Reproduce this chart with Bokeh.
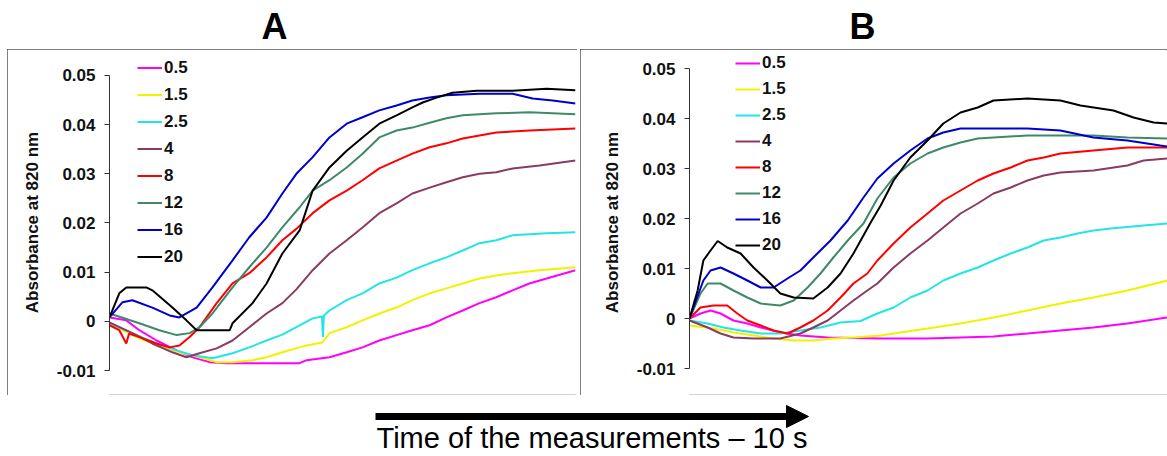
from bokeh.plotting import figure
from bokeh.models import (Range1d, FixedTicker, CustomJSTickFormatter, Legend, LegendItem,
                          Label, Arrow, NormalHead)
from bokeh.layouts import column, row
from bokeh.embed import file_html
from bokeh.resources import INLINE

# ---------------- data ----------------
labels = ["0.5", "1.5", "2.5", "4", "8", "12", "16", "20"]
colors = ["#FF00FF", "#F2F200", "#22E5E5", "#8B3A62", "#FF0000", "#3E8A68", "#0000CC", "#000000"]
yticks = [-0.01, 0.0, 0.01, 0.02, 0.03, 0.04, 0.05]

# Panel A (time in % of the record)
A_t_05 = [0, 3.6, 6.4, 10.1, 14.4, 17.8, 21.5, 25.1, 30.0, 40.8, 42.3, 47.2, 50.9, 54.3, 57.9, 61.6, 65.0, 68.7, 72.3, 75.8, 79.4, 83.0, 86.5, 90.1, 93.8, 100]
A_v_05 = [0.0008, 0.0002, -0.0018, -0.0039, -0.0059, -0.0073, -0.0083, -0.0085, -0.0085, -0.0085, -0.0079, -0.0073, -0.0063, -0.0053, -0.0039, -0.0028, -0.0018, -0.0008, 0.0008, 0.0022, 0.0037, 0.0049, 0.0063, 0.0077, 0.0087, 0.0104]
A_t_15 = [0, 4.9, 10.1, 15.0, 19.3, 23.0, 26.4, 30.7, 33.7, 37.1, 40.8, 42.3, 45.7, 47.2, 50.9, 54.3, 57.9, 61.6, 65.0, 68.7, 72.3, 75.8, 79.4, 83.0, 86.5, 92.3, 100]
A_v_15 = [-0.0004, -0.0028, -0.0049, -0.0063, -0.0073, -0.0083, -0.0083, -0.0079, -0.0073, -0.0063, -0.0053, -0.0049, -0.0043, -0.0024, -0.0012, 0.0002, 0.0016, 0.0028, 0.0043, 0.0057, 0.0067, 0.0077, 0.0087, 0.0093, 0.0098, 0.0104, 0.011]
A_t_25 = [0, 4.9, 10.1, 14.4, 17.8, 22.1, 26.4, 30.0, 33.7, 37.1, 40.1, 43.6, 45.6, 45.8, 46.0, 47.2, 50.9, 54.3, 57.9, 61.6, 65.0, 68.7, 72.3, 75.8, 79.4, 83.0, 86.5, 93.8, 100]
A_v_25 = [-0.0004, -0.0024, -0.0045, -0.0059, -0.0069, -0.0075, -0.0065, -0.0053, -0.0039, -0.0027, -0.0012, 0.0006, 0.0010, -0.0032, 0.0012, 0.0022, 0.0043, 0.0057, 0.0077, 0.0089, 0.0104, 0.0118, 0.013, 0.0144, 0.0159, 0.0165, 0.0175, 0.0179, 0.0181]
A_t_4 = [0, 4.9, 9.2, 13.5, 16.5, 19.3, 23.0, 26.4, 30.0, 33.7, 37.1, 40.1, 43.6, 47.2, 50.9, 54.3, 57.9, 61.6, 65.0, 68.7, 72.3, 75.8, 79.4, 83.0, 86.5, 92.3, 100]
A_v_4 = [-0.0002, -0.0024, -0.0045, -0.0063, -0.0073, -0.0065, -0.0055, -0.0039, -0.0012, 0.0016, 0.0037, 0.0065, 0.0104, 0.0138, 0.0165, 0.0191, 0.022, 0.024, 0.026, 0.0272, 0.0283, 0.0293, 0.030, 0.0303, 0.0311, 0.0317, 0.0327]
A_t_8 = [0, 2.1, 3.6, 4.2, 6.4, 10.1, 12.9, 15.0, 17.2, 19.3, 23.0, 26.4, 30.0, 33.7, 37.1, 40.1, 43.6, 47.2, 50.9, 54.3, 57.9, 61.6, 65.0, 68.7, 72.3, 75.8, 79.4, 83.0, 90.1, 100]
A_v_8 = [-0.0008, -0.0018, -0.0045, -0.0025, -0.0032, -0.0045, -0.0053, -0.0049, -0.0032, -0.0012, 0.0037, 0.0077, 0.0098, 0.013, 0.0165, 0.0188, 0.022, 0.0246, 0.0266, 0.0287, 0.0311, 0.0327, 0.0341, 0.0354, 0.0362, 0.0372, 0.0378, 0.0384, 0.0388, 0.0392]
A_t_12 = [0, 6.4, 10.7, 14.4, 17.2, 19.3, 22.1, 26.4, 30.0, 33.7, 37.1, 40.8, 43.6, 47.2, 50.9, 54.3, 57.9, 61.6, 65.0, 68.7, 72.3, 75.8, 83.0, 90.1, 100]
A_v_12 = [0.0016, -0.0004, -0.0018, -0.0028, -0.0024, -0.0012, 0.0016, 0.0069, 0.011, 0.015, 0.0191, 0.0232, 0.0266, 0.0287, 0.0313, 0.0341, 0.0374, 0.0388, 0.0394, 0.0404, 0.0413, 0.0419, 0.0423, 0.0425, 0.0421]
A_t_16 = [0, 2.8, 4.9, 9.2, 12.9, 15.0, 18.7, 22.1, 26.4, 30.0, 33.7, 37.1, 40.1, 43.6, 47.2, 50.9, 54.3, 57.9, 61.6, 65.0, 68.7, 72.3, 79.4, 86.5, 90.8, 95.1, 100]
A_v_16 = [0.0008, 0.0039, 0.0043, 0.0028, 0.0012, 0.0008, 0.0028, 0.0069, 0.0124, 0.0171, 0.0211, 0.026, 0.030, 0.0334, 0.0374, 0.0402, 0.0415, 0.0429, 0.0439, 0.0449, 0.0455, 0.046, 0.0463, 0.0463, 0.0453, 0.0449, 0.0443]
A_t_20 = [0, 2.1, 3.6, 7.9, 9.2, 13.5, 16.5, 18.7, 25.8, 26.4, 30.7, 33.7, 37.1, 40.8, 43.6, 47.2, 50.9, 54.3, 57.9, 61.6, 65.0, 67.2, 70.2, 73.6, 78.8, 86.5, 93.8, 100]
A_v_20 = [0.0008, 0.0057, 0.0069, 0.0069, 0.0063, 0.0028, 0.0002, -0.0018, -0.0018, -0.0004, 0.0037, 0.0077, 0.0138, 0.0185, 0.0266, 0.0313, 0.0347, 0.0374, 0.0402, 0.0419, 0.0435, 0.0445, 0.0455, 0.0465, 0.0469, 0.0469, 0.0473, 0.047]

# Panel B
B_t_05 = [0, 2.3, 4.4, 6.5, 9.2, 12.1, 14.9, 19.0, 23.2, 28.9, 40.0, 49.8, 63.6, 70.7, 77.6, 84.5, 91.6, 100]
B_v_05 = [0, 0.001, 0.0016, 0.001, -0.0004, -0.001, -0.0018, -0.0028, -0.0034, -0.0038, -0.004, -0.004, -0.0036, -0.003, -0.0024, -0.0018, -0.001, 0.0002]
B_t_15 = [0, 5.0, 9.2, 13.4, 17.6, 21.8, 25.9, 30.1, 34.3, 40.0, 42.7, 49.8, 56.7, 63.6, 70.7, 77.6, 84.5, 91.6, 100]
B_v_15 = [-0.0014, -0.002, -0.0028, -0.0034, -0.004, -0.0044, -0.0044, -0.004, -0.0038, -0.0034, -0.003, -0.002, -0.001, 0.0002, 0.0016, 0.003, 0.0042, 0.0056, 0.0076]
B_t_25 = [0, 3.8, 7.1, 10.7, 14.9, 19.0, 23.2, 27.4, 31.6, 35.8, 39.3, 42.7, 46.2, 49.8, 53.1, 56.7, 60.3, 63.6, 67.2, 70.7, 74.1, 77.6, 81.2, 84.5, 88.1, 95.0, 100]
B_v_25 = [-0.0004, -0.001, -0.0018, -0.0024, -0.003, -0.003, -0.0024, -0.0018, -0.0008, -0.0005, 0.001, 0.0022, 0.0042, 0.0056, 0.0076, 0.009, 0.0102, 0.0116, 0.013, 0.0142, 0.0156, 0.0162, 0.017, 0.0176, 0.018, 0.0186, 0.019]
B_t_4 = [0, 3.8, 6.5, 9.2, 13.4, 19.0, 23.2, 25.9, 28.9, 31.6, 34.3, 37.2, 39.3, 42.7, 46.2, 49.8, 53.1, 56.7, 60.3, 63.6, 67.2, 70.7, 74.1, 77.6, 84.5, 91.6, 95.0, 100]
B_v_4 = [-0.0004, -0.0018, -0.003, -0.0038, -0.004, -0.004, -0.003, -0.0018, -0.0004, 0.0016, 0.0036, 0.0056, 0.007, 0.0102, 0.013, 0.0156, 0.0182, 0.021, 0.023, 0.025, 0.0262, 0.0276, 0.0286, 0.0292, 0.0296, 0.0306, 0.0316, 0.032]
B_t_8 = [0, 2.3, 5.0, 7.9, 10.0, 12.1, 14.9, 17.6, 20.5, 23.2, 25.9, 28.9, 31.6, 34.3, 37.2, 39.3, 42.7, 46.2, 49.8, 53.1, 56.7, 60.3, 63.6, 67.2, 70.7, 74.1, 77.6, 84.5, 91.6, 100]
B_v_8 = [0, 0.0022, 0.0026, 0.0026, 0.001, -0.0004, -0.0014, -0.0024, -0.003, -0.0018, -0.0004, 0.0016, 0.0042, 0.007, 0.009, 0.0116, 0.015, 0.0182, 0.021, 0.0236, 0.0256, 0.0276, 0.029, 0.0302, 0.0316, 0.0322, 0.033, 0.0336, 0.0342, 0.0342]
B_t_12 = [0, 2.3, 3.8, 6.5, 9.2, 12.1, 14.9, 19.0, 21.8, 24.7, 27.4, 30.1, 33.1, 36.4, 39.3, 42.7, 46.2, 49.8, 53.1, 56.7, 60.3, 63.6, 70.7, 77.6, 84.5, 91.6, 100]
B_v_12 = [0, 0.005, 0.007, 0.007, 0.0056, 0.0042, 0.003, 0.0026, 0.0036, 0.0062, 0.009, 0.0122, 0.0156, 0.019, 0.024, 0.0282, 0.031, 0.033, 0.0342, 0.0352, 0.036, 0.0362, 0.0366, 0.0366, 0.0366, 0.0362, 0.036]
B_t_16 = [0, 2.9, 4.4, 6.5, 9.2, 12.1, 14.9, 17.6, 20.5, 23.2, 25.9, 29.5, 33.1, 36.4, 39.3, 42.7, 46.2, 49.8, 53.1, 56.7, 63.6, 70.7, 77.6, 84.5, 91.6, 98.5, 100]
B_v_16 = [0, 0.0076, 0.0096, 0.0102, 0.009, 0.0076, 0.0062, 0.0062, 0.008, 0.0096, 0.0122, 0.0156, 0.0196, 0.0242, 0.028, 0.031, 0.0336, 0.036, 0.0372, 0.038, 0.038, 0.038, 0.0376, 0.0362, 0.0356, 0.0346, 0.0344]
B_t_20 = [0, 1.7, 2.9, 4.4, 5.9, 7.9, 10.7, 13.4, 16.3, 19.0, 21.8, 25.9, 28.9, 31.6, 34.3, 37.9, 40.0, 42.7, 46.2, 49.8, 53.1, 56.7, 60.3, 63.6, 70.7, 77.6, 81.8, 88.7, 92.9, 97.1, 100]
B_v_20 = [0, 0.0056, 0.0116, 0.0136, 0.0155, 0.0142, 0.013, 0.0102, 0.0076, 0.005, 0.0042, 0.004, 0.0062, 0.009, 0.013, 0.0192, 0.0226, 0.0276, 0.0322, 0.0356, 0.039, 0.0412, 0.0422, 0.0436, 0.044, 0.0436, 0.0426, 0.0416, 0.0402, 0.0392, 0.039]

A_series = [(A_t_05, A_v_05), (A_t_15, A_v_15), (A_t_25, A_v_25), (A_t_4, A_v_4),
            (A_t_8, A_v_8), (A_t_12, A_v_12), (A_t_16, A_v_16), (A_t_20, A_v_20)]
B_series = [(B_t_05, B_v_05), (B_t_15, B_v_15), (B_t_25, B_v_25), (B_t_4, B_v_4),
            (B_t_8, B_v_8), (B_t_12, B_v_12), (B_t_16, B_v_16), (B_t_20, B_v_20)]

FONT = "Liberation Sans"
BOX = {"outline": "1px solid #555555", "outline-offset": "-1px"}


def make_panel(series, width, left, right, x_end, y_start, y_end, leg_loc, row_h):
    p = figure(width=width, height=346, x_range=Range1d(0, x_end), y_range=Range1d(y_start, y_end),
               output_backend="svg", toolbar_location=None, x_axis_location=None, title=None,
               min_border_left=left, min_border_right=right, min_border_top=1, min_border_bottom=1,
               outline_line_color=None, background_fill_color="white", border_fill_color="white",
               styles=BOX)
    p.grid.visible = False
    ax = p.yaxis[0]
    ax.ticker = FixedTicker(ticks=yticks)
    ax.formatter = CustomJSTickFormatter(code="return Math.abs(tick) < 1e-9 ? '0' : tick.toFixed(2);")
    ax.bounds = (-0.01, 0.05)
    ax.minor_tick_line_color = None
    ax.major_tick_in = 0
    ax.major_tick_out = 5
    ax.axis_line_color = "#333333"
    ax.major_tick_line_color = "#333333"
    ax.major_label_text_font = FONT
    ax.major_label_text_font_style = "bold"
    ax.major_label_text_font_size = "17px"
    ax.major_label_text_color = "#111111"
    ax.major_label_standoff = 9
    ax.axis_label = "Absorbance at 820 nm"
    ax.axis_label_text_font = FONT
    ax.axis_label_text_font_style = "bold"
    ax.axis_label_text_font_size = "17px"
    ax.axis_label_text_color = "#111111"
    ax.axis_label_standoff = 12
    items = []
    for (t, v), lab, col in zip(series, labels, colors):
        r = p.line(t, v, line_color=col, line_width=2)
        items.append(LegendItem(label=lab, renderers=[r]))
    leg = Legend(items=items, location=leg_loc, border_line_color=None, background_fill_alpha=0,
                 padding=0, margin=0, spacing=0, glyph_width=25, glyph_height=row_h, label_height=row_h,
                 label_standoff=2, label_text_font=FONT, label_text_font_style="bold",
                 label_text_font_size="17px", label_text_color="#111111")
    p.add_layout(leg)
    return p


pA = make_panel(A_series, 570, 102, 2, 100, -0.01488, 0.05508, (28, 124), 27)
pB = make_panel(B_series, 587, 109, 0, 100, -0.0152, 0.0536, (46, 136), 26)

header = figure(width=1167, height=49, x_range=Range1d(0, 1167), y_range=Range1d(0, 49),
                output_backend="svg", toolbar_location=None, x_axis_location=None, y_axis_location=None,
                title=None, min_border=0, outline_line_color=None)
header.grid.visible = False
for txt, xc in [("A", 274), ("B", 862)]:
    header.add_layout(Label(x=xc, y=44, x_units="screen", y_units="screen", text=txt,
                            text_font=FONT, text_font_style="bold", text_font_size="36px",
                            text_align="center", text_baseline="top", text_color="#000000"))

footer = figure(width=1167, height=60, x_range=Range1d(0, 1167), y_range=Range1d(0, 60),
                output_backend="svg", toolbar_location=None, x_axis_location=None, y_axis_location=None,
                title=None, min_border=0, outline_line_color=None)
footer.grid.visible = False
footer.add_layout(Arrow(x_start=375, y_start=39, x_end=808, y_end=39,
                        start_units="screen", end_units="screen", line_width=7, line_color="#000000",
                        end=NormalHead(size=22, fill_color="#000000", line_color="#000000", line_width=1)))
footer.add_layout(Label(x=376, y=34, x_units="screen", y_units="screen",
                        text="Time of the measurements \u2013 10 s", text_font=FONT,
                        text_font_size="29px", text_baseline="top", text_color="#000000"))

layout = column(header, row(pA, pB, spacing=3, margin=(0, 0, 0, 7)), footer, spacing=0)
open("out.html", "w").write(file_html(layout, INLINE))
